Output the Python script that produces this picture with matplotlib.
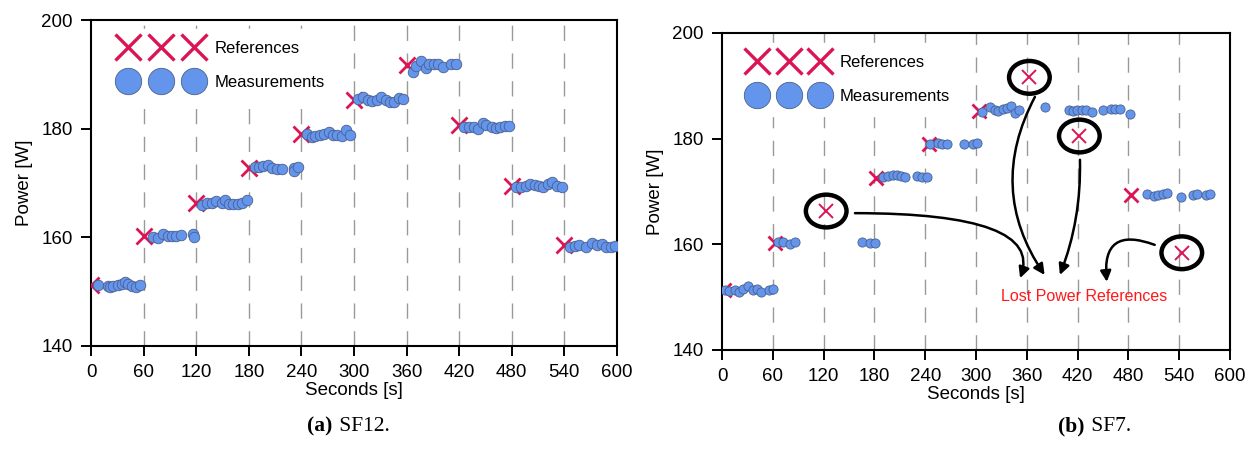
import numpy as np
import matplotlib
matplotlib.use("Agg")
import matplotlib.pyplot as plt
from matplotlib.lines import Line2D
from matplotlib.patches import Ellipse

plt.rcParams['font.family'] = ['Liberation Sans', 'DejaVu Sans']

# ---- (a) SF12 ----
ref_t_a = [0, 60, 120, 180, 240, 300, 360, 420, 480, 540]
ref_p_a = [151.2, 160.2, 166.4, 172.7, 179.1, 185.3, 191.7, 180.6, 169.4, 158.5]

meas_t_a = [8, 19, 22, 25, 31, 35, 39, 42, 47, 51, 56,
            71, 76, 82, 88, 92, 97, 103, 116, 118,
            127, 132, 138, 143, 149, 153, 157, 162, 168, 172, 178,
            187, 192, 196, 202, 206, 212, 218, 231, 232, 236,
            246, 252, 256, 261, 266, 271, 276, 281, 286, 291, 296,
            305, 310, 316, 321, 326, 331, 336, 341, 346, 351, 356,
            367, 371, 377, 382, 386, 391, 396, 402, 411, 416,
            426, 431, 437, 442, 447, 451, 457, 462, 467, 472, 477,
            485, 491, 496, 501, 506, 511, 516, 521, 526, 532, 537,
            546, 552, 557, 565, 571, 577, 583, 587, 593, 598]
meas_p_a = [151.2, 151.0, 150.9, 151.0, 151.2, 151.5, 151.7, 151.4, 151.1, 150.8, 151.3,
            160.1, 159.8, 160.6, 160.2, 160.2, 160.3, 160.5, 160.6, 160.1,
            166.0, 166.4, 166.4, 166.6, 166.4, 166.9, 166.2, 166.2, 166.2, 166.3, 166.8,
            173.0, 172.9, 173.1, 173.3, 172.7, 172.6, 172.5, 172.7, 172.3, 173.0,
            179.0, 178.4, 178.7, 178.9, 179.0, 179.3, 178.8, 178.8, 178.7, 179.7, 178.9,
            185.4, 185.8, 185.3, 185.1, 185.3, 185.8, 185.3, 184.9, 185.0, 185.6, 185.4,
            190.5, 191.6, 192.5, 191.1, 191.9, 191.9, 191.9, 191.4, 191.9, 191.9,
            180.3, 180.3, 180.3, 179.9, 181.1, 180.7, 180.3, 180.1, 180.4, 180.5, 180.5,
            169.2, 169.3, 169.5, 169.8, 169.6, 169.5, 169.2, 169.8, 170.1, 169.5, 169.3,
            158.2, 158.4, 158.6, 158.2, 158.9, 158.6, 158.8, 158.3, 158.3, 158.4]

# ---- (b) SF7 ----
ref_t_b = [2, 62, 123, 182, 244, 304, 363, 422, 483, 543]
ref_p_b = [151.3, 160.2, 166.3, 172.5, 178.9, 185.3, 191.6, 180.5, 169.4, 158.4]
lost_b = [False, False, True, False, False, False, True, True, False, True]

meas_t_b = [3.5, 8.7, 15.3, 20.4, 25.1, 30.3, 36.2, 41, 45.7, 55.8, 60.6,
            66.5, 71.7, 80.3, 86.2, 165.6, 174.7, 180.6,
            190.4, 196.3, 201.5, 206.3, 211, 216, 230.6, 236.5, 241.7,
            245.6, 255.4, 260.1, 266, 285.7, 296.7, 301.4,
            306.6, 316.4, 322.3, 326.2, 331.4, 336.1, 341.2, 345.9, 351,
            381.3, 410, 414.8, 419.5, 424.7, 429.8, 436.5,
            450.2, 458.9, 464, 469.9, 481.7,
            501.4, 510, 515.1, 520.3, 525.7, 541.9, 556.4, 561.2, 571.4, 576.1]
meas_p_b = [151.4, 151.2, 151.4, 151.0, 151.5, 152.1, 151.4, 151.5, 151.0, 151.4, 151.6,
            160.5, 160.4, 160.0, 160.5, 160.5, 160.3, 160.3,
            172.7, 173.0, 173.1, 173.1, 173.0, 172.8, 173.0, 172.8, 172.7,
            179.0, 179.1, 179.0, 179.0, 179.0, 179.0, 179.2,
            185.1, 186.0, 185.5, 185.3, 185.6, 185.8, 186.1, 184.8, 185.5,
            186.0, 185.5, 185.3, 185.5, 185.5, 185.5, 185.1,
            185.5, 185.6, 185.6, 185.6, 184.7,
            169.5, 169.2, 169.4, 169.5, 169.7, 169.0, 169.3, 169.5, 169.3, 169.5]

xticks = [0, 60, 120, 180, 240, 300, 360, 420, 480, 540, 600]
yticks = [140, 160, 180, 200]

ref_color = '#dc1454'
meas_color = '#6495ed'
meas_edge = '#4a5f8c'


def style_axes(ax):
    ax.set_xlim(0, 600)
    ax.set_ylim(140, 200)
    ax.set_xticks(xticks)
    ax.set_yticks(yticks)
    ax.tick_params(direction='out', length=7, width=1.4, labelsize=13.5, pad=6)
    for s in ax.spines.values():
        s.set_linewidth(1.5)
    for x in xticks[1:-1]:
        ax.axvline(x, color='#999999', lw=1.0, ls=(0, (11, 9)), zorder=0)
    ax.set_xlabel('Seconds [s]', fontsize=13.5, labelpad=1)
    ax.set_ylabel('Power [W]', fontsize=13.5, labelpad=6)


def add_legend(ax, anchor, hl, tpad):
    h_ref = Line2D([], [], marker='x', ls='', color=ref_color, ms=19, mew=2.4)
    h_meas = Line2D([], [], marker='o', ls='', mfc=meas_color, mec=meas_edge,
                    mew=0.6, ms=19)
    leg = ax.legend([h_ref, h_meas], ['References', 'Measurements'],
                    numpoints=3, handlelength=hl, fontsize=12,
                    loc='upper left', bbox_to_anchor=anchor,
                    frameon=True, facecolor='white', edgecolor='white',
                    framealpha=1, labelspacing=1.17, handletextpad=tpad,
                    borderpad=0.7)
    leg.set_zorder(5)


fig = plt.figure(figsize=(12.54, 4.55), dpi=100)
ax1 = fig.add_axes([0.0726, 0.2396, 0.4194, 0.7164])
ax2 = fig.add_axes([0.5758, 0.2308, 0.4051, 0.6967])

# (a)
style_axes(ax1)
ax1.plot(ref_t_a, ref_p_a, 'x', color=ref_color, ms=11, mew=2.0, zorder=3)
ax1.plot(meas_t_a, meas_p_a, 'o', mfc=meas_color, mec=meas_edge, mew=0.6,
         ms=7.6, zorder=4)
add_legend(ax1, (0.022, 0.998), 4.56, 0.96)

# (b)
style_axes(ax2)
ref_t_b = np.array(ref_t_b)
ref_p_b = np.array(ref_p_b)
lost_b = np.array(lost_b)
ax2.plot(ref_t_b[~lost_b], ref_p_b[~lost_b], 'x', color=ref_color, ms=10,
         mew=2.0, zorder=3)
ax2.plot(ref_t_b[lost_b], ref_p_b[lost_b], 'x', color=ref_color, ms=10,
         mew=1.4, zorder=3)
ax2.plot(meas_t_b, meas_p_b, 'o', mfc=meas_color, mec=meas_edge, mew=0.6,
         ms=6.6, zorder=4)
for t, p in zip(ref_t_b[lost_b], ref_p_b[lost_b]):
    ax2.add_patch(Ellipse((t, p), 48, 6.2, fill=False, ec='black', lw=3.2,
                          zorder=6))
add_legend(ax2, (0.020, 0.995), 4.38, 0.84)

ax2.text(428, 150.2, 'Lost Power References', color='#ff1a1a', fontsize=11.5,
         ha='center', va='center', zorder=7)
arrow_kw = dict(arrowstyle='-|>', color='black', lw=1.8, mutation_scale=16,
                shrinkA=0, shrinkB=0)
ax2.annotate('', xy=(352, 153.6), xytext=(157, 165.9),
             arrowprops=dict(connectionstyle='angle3,angleA=0,angleB=70', **arrow_kw))
ax2.annotate('', xy=(381, 154.2), xytext=(369.5, 187.9),
             arrowprops=dict(connectionstyle='arc3,rad=0.3', **arrow_kw))
ax2.annotate('', xy=(399, 154.2), xytext=(422.7, 176.0),
             arrowprops=dict(connectionstyle='arc3,rad=-0.1', **arrow_kw))
ax2.annotate('', xy=(454.5, 152.9), xytext=(511, 159.9),
             arrowprops=dict(connectionstyle='arc3,rad=0.8', **arrow_kw))

# captions
serif = ['Liberation Serif', 'DejaVu Serif']
fig.text(0.265, 0.062, '(a)', family=serif, weight='bold', fontsize=15.5,
         ha='right', va='center')
fig.text(0.266, 0.062, ' SF12.', family=serif, fontsize=15.5, ha='left', va='center')
fig.text(0.865, 0.062, '(b)', family=serif, weight='bold', fontsize=15.5,
         ha='right', va='center')
fig.text(0.866, 0.062, ' SF7.', family=serif, fontsize=15.5, ha='left', va='center')

fig.savefig('out.png', dpi=100)
